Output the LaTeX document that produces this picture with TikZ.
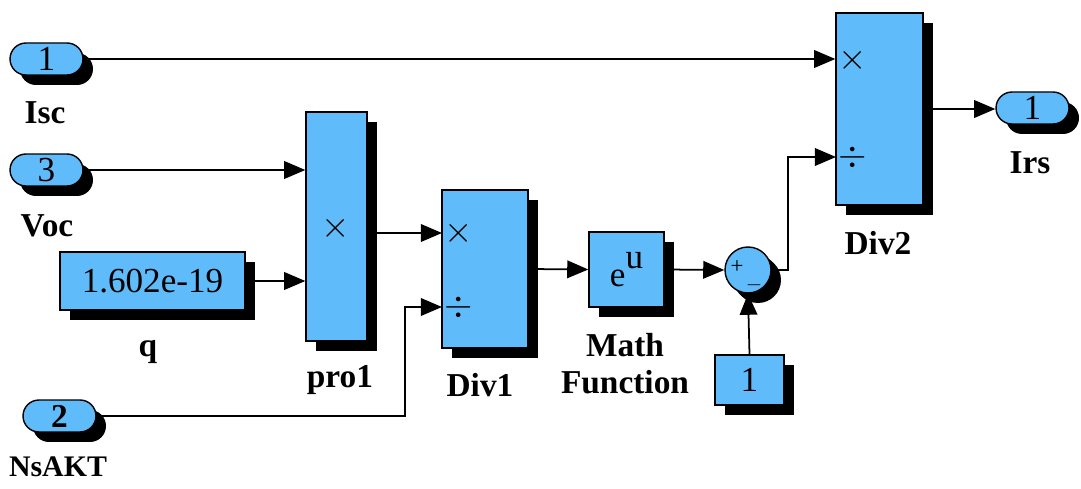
\documentclass[tikz,border=0pt]{standalone}
\usepackage{fontspec}
\setmainfont{Liberation Serif}
\newfontfamily\blkfont{Liberation Serif}
\usetikzlibrary{arrows.meta,shadows}
\definecolor{simblue}{RGB}{96,187,250}

\tikzset{
  blk/.style={draw=black, line width=0.8pt, fill=simblue, inner sep=0pt,
    font=\blkfont\fontsize{20}{21}\selectfont,
    drop shadow={shadow xshift=0.2cm, shadow yshift=-0.2cm, fill=black, opacity=1}},
  port/.style={blk, rounded corners=0.32cm, minimum width=1.46cm, minimum height=0.64cm},
  lbl/.style={font=\fontsize{19}{21}\selectfont\bfseries, align=center},
  sym/.style={font=\fontsize{22}{22}\selectfont, inner sep=0pt},
  sig/.style={-{Triangle[length=12pt,width=10pt]}, line width=1pt}
}

\begin{document}
\begin{tikzpicture}[x=0.02cm, y=-0.02cm]
  \useasboundingbox (0,0) rectangle (1081,489);

  % inputs
  \node[port] (in1) at (46.5,59) {1};
  \node[port] (in3) at (46.5,170) {3};
  \node[port, font=\blkfont\fontsize{19}{20}\selectfont\bfseries] (in2) at (59.5,416) {2};
  \node[blk, minimum width=3.7cm, minimum height=1.16cm] (q) at (152.5,281) {1.602e-19};

  \node[lbl] (lIsc) at (45,113) {Isc};
  \node[lbl] (lVoc) at (47,226) {Voc};
  \node[lbl] (lq) at (148,352) {q};
  \node[lbl, font=\fontsize{17}{19}\selectfont\bfseries] (lNsAKT) at (58,467) {NsAKT};

  % blocks
  \node[blk, minimum width=1.22cm, minimum height=4.58cm] (pro1) at (336.5,226.5) {};
  \node[sym] (pro1x) at (336,228) {$\times$};
  \node[lbl] (lpro1) at (340,380) {pro1};

  \node[blk, minimum width=1.72cm, minimum height=3.16cm] (div1) at (485,269) {};
  \node[sym] (div1x) at (459,233) {$\times$};
  \node[sym] (div1d) at (459,307) {$\div$};
  \node[lbl] (ldiv1) at (480,385) {Div1};
  \coordinate (div1a) at (442,233);
  \coordinate (div1b) at (442,307);

  \node[blk, minimum width=1.5cm, minimum height=1.5cm] (math) at (626.5,269.5) {e\raisebox{1.1ex}{u}};
  \node[lbl] (lmath) at (625,364) {Math\\Function};

  \node[blk, circle, minimum size=0.92cm,
    drop shadow={shadow xshift=0.16cm, shadow yshift=-0.16cm, fill=black, opacity=1}] (sum) at (748,270) {};
  \node[sym, font=\fontsize{13}{13}\selectfont] (sump) at (737,267) {+};
  \node[sym, font=\fontsize{13}{13}\selectfont] (summ) at (754,285) {$-$};

  \node[blk, minimum width=1.38cm, minimum height=1cm] (one) at (749.5,380) {1};

  \node[blk, minimum width=1.74cm, minimum height=3.84cm] (div2) at (879.5,109) {};
  \node[sym] (div2x) at (853,60) {$\times$};
  \node[sym] (div2d) at (853,157) {$\div$};
  \node[lbl] (ldiv2) at (878,243) {Div2};
  \coordinate (div2b) at (836,157);

  \node[port] (out1) at (1032.5,108) {1};
  \node[lbl] (lIrs) at (1030,163) {Irs};

  % signals
  \coordinate (bend) at (405,307);
  \draw[sig] (in1.east) -- (in1.east -| div2.west);
  \draw[sig] (in3.east) -- (in3.east -| pro1.west);
  \draw[sig] (q.east) -- (q.east -| pro1.west);
  \draw[sig] (pro1.east |- div1a) -- (div1a);
  \draw[sig] (in2.east) -| (bend) |- (div1b);
  \draw[sig] (div1.east) -- (math.west);
  \draw[sig] (math.east) -- (sum.west);
  \draw[sig] (one.north) -- (sum.south);
  \draw[sig] (sum.east) -- ++(16,0) |- (div2b);
  \draw[sig] (div2.east) -- (div2.east -| out1.west);
\end{tikzpicture}
\end{document}
